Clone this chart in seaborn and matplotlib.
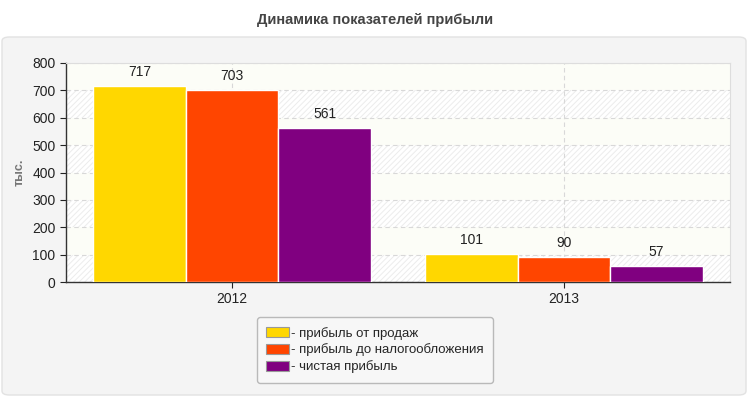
import pandas as pd
import matplotlib.pyplot as plt
import seaborn as sns
from matplotlib.patches import FancyBboxPatch, Rectangle

# data
years = ["2012", "2013"]
series = ["- прибыль от продаж", "- прибыль до налогообложения", "- чистая прибыль"]
sales_profit = [717, 101]
pretax_profit = [703, 90]
net_profit = [561, 57]
colors = ["#FFD700", "#FF4500", "#800080"]

df = pd.DataFrame({
    "year": years * 3,
    "series": [series[0]] * 2 + [series[1]] * 2 + [series[2]] * 2,
    "value": sales_profit + pretax_profit + net_profit,
})

sns.set_style("white")
plt.rcParams["font.family"] = ["Liberation Sans", "DejaVu Sans"]
plt.rcParams["hatch.linewidth"] = 0.7

fig = plt.figure(figsize=(7.5, 4), dpi=100)
fig.patch.set_facecolor("white")

# grey panel behind chart
panel = FancyBboxPatch((2 / 750, 5 / 400), 744 / 750, 358 / 400,
                       boxstyle="round,pad=0,rounding_size=0.01",
                       transform=fig.transFigure, facecolor="#f4f4f4",
                       edgecolor="#e2e2e2", linewidth=1, zorder=-10)
fig.patches.append(panel)

fig.text(0.5, 1 - 20 / 400, "Динамика показателей прибыли", ha="center",
         va="center", fontsize=10.5, fontweight="bold", color="#444444")

ax = fig.add_axes([66 / 750, 1 - 282 / 400, 664 / 750, 219 / 400])
ax.set_zorder(1)
ax.set_facecolor("white")

# alternating bands: hatched and plain cream
for lo in [0, 200, 400, 600]:
    ax.add_patch(Rectangle((-0.5, lo), 2, 100, facecolor="white", edgecolor="#ececec",
                           hatch="//////", lw=0, zorder=0))
for lo in [100, 300, 500, 700]:
    ax.axhspan(lo, lo + 100, color="#fcfdf7", zorder=0, lw=0)

sns.barplot(data=df, x="year", y="value", hue="series", palette=colors,
            width=0.837, gap=0, edgecolor="white", linewidth=1,
            saturation=1, ax=ax, zorder=3)

for c in ax.containers:
    ax.bar_label(c, padding=5, fontsize=10, color="#222222")

ax.set_ylim(0, 800)
ax.set_xlim(-0.5, 1.5)
ax.set_yticks(range(0, 801, 100))
ax.grid(True, axis="both", linestyle=(0, (4, 3)), color="#d8d8d8", linewidth=0.8, zorder=1)
ax.set_axisbelow(True)

ax.set_xlabel("")
ax.set_ylabel("тыс.", fontsize=9, fontweight="bold", color="#777777", labelpad=5)
ax.tick_params(axis="both", labelsize=10, colors="#222222", length=4, direction="out",
               left=True, bottom=True)

for side in ["left", "bottom"]:
    ax.spines[side].set_color("#333333")
    ax.spines[side].set_linewidth(1)
for side in ["top", "right"]:
    ax.spines[side].set_color("#dddddd")

ax.legend_.remove()
handles, labels = ax.get_legend_handles_labels()
leg = fig.legend(handles, labels, loc="center", bbox_to_anchor=(375 / 750, 1 - 350 / 400),
                 fontsize=9.5, frameon=True, fancybox=True, facecolor="#f9f9f9",
                 edgecolor="#aaaaaa", handlelength=1.7, handleheight=0.8,
                 handletextpad=0.15, labelspacing=0.3, borderpad=0.7, borderaxespad=0)
leg.get_frame().set_linewidth(1)
for h in leg.legend_handles:
    h.set_edgecolor("#999999")
    h.set_linewidth(0.8)

fig.savefig("out.png", dpi=100)
